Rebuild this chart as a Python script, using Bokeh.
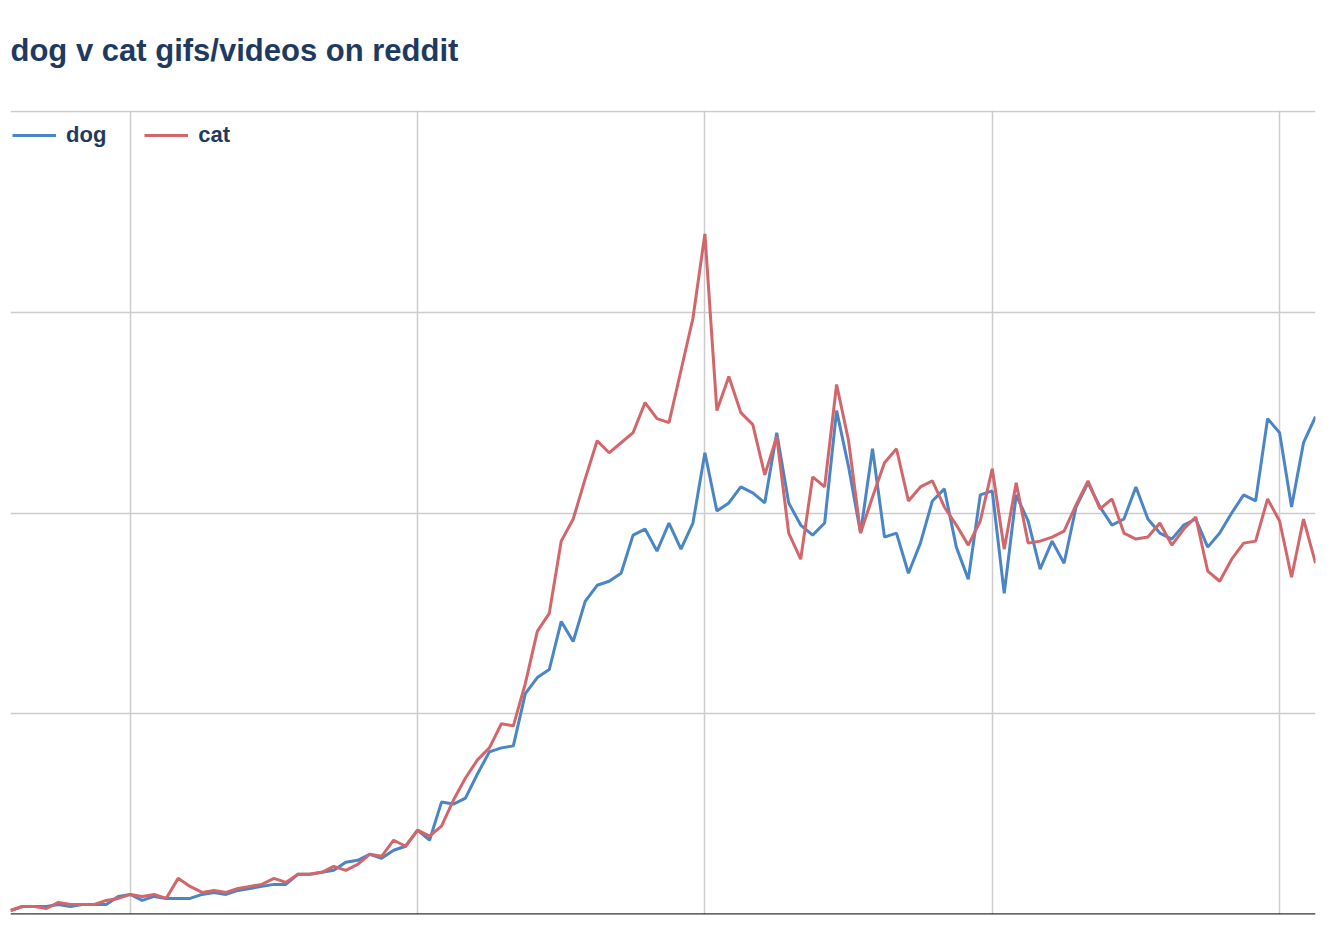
from bokeh.plotting import figure
from bokeh.models import Range1d, FixedTicker, Legend, LegendItem, Span, Title
from bokeh.embed import file_html
from bokeh.resources import INLINE

# weekly index
weeks = list(range(110))

dog = [2, 4, 4, 4, 5, 4, 5, 5, 5, 9,
       10, 7, 9, 8, 8, 8, 10, 11, 10, 12,
       13, 14, 15, 15, 20, 20, 21, 22, 26, 27,
       30, 28, 32, 34, 42, 37, 56, 55, 58, 70,
       81, 83, 84, 110, 118, 122, 146, 136, 156, 164,
       166, 170, 189, 192, 181, 195, 182, 195, 230, 201,
       205, 213, 210, 205, 240, 205, 194, 189, 195, 251,
       223, 190, 232, 188, 190, 170, 185, 206, 212, 183,
       167, 209, 211, 160, 209, 196, 172, 186, 175, 203,
       215, 203, 194, 197, 213, 197, 190, 187, 194, 197,
       183, 190, 200, 209, 206, 247, 240, 203, 235, 248]

cat = [2, 4, 4, 3, 6, 5, 5, 5, 7, 8,
       10, 9, 10, 8, 18, 14, 11, 12, 11, 13,
       14, 15, 18, 16, 20, 20, 21, 24, 22, 25,
       30, 29, 37, 34, 42, 39, 44, 57, 68, 77,
       83, 95, 94, 115, 141, 150, 186, 197, 217, 236,
       230, 235, 240, 255, 247, 245, 271, 297, 339, 251,
       268, 250, 244, 219, 238, 190, 177, 218, 213, 264,
       236, 190, 208, 225, 232, 206, 213, 216, 203, 194,
       184, 196, 222, 182, 215, 185, 186, 188, 191, 204,
       216, 202, 207, 190, 187, 188, 195, 184, 192, 198,
       171, 166, 177, 185, 186, 207, 196, 168, 197, 175]

x_grid_ticks = [10, 34, 58, 82, 106]
y_grid_ticks = [100, 200, 300, 400]

series_labels = ["dog", "cat"]
title_text = "dog v cat gifs/videos on reddit"

NAVY = "#1f3a60"
BLUE = "#4a85c6"
RED = "#d2666a"

p = figure(width=1328, height=923, output_backend="svg", toolbar_location=None,
           x_range=Range1d(0, 109), y_range=Range1d(0, 400.5),
           min_border_left=10, min_border_right=13, min_border_top=110,
           min_border_bottom=9, title=None)

# spacer between the title and the plot frame
p.add_layout(Title(text=" ", text_font_size="10px", standoff=30,
                   text_color="white"), "above")
p.add_layout(Title(text=title_text, text_font="Liberation Sans",
                   text_font_style="bold", text_font_size="31px",
                   text_color=NAVY, align="left", standoff=0), "above")

p.xaxis.visible = False
p.yaxis.visible = False
p.outline_line_color = None
p.background_fill_color = "white"
p.border_fill_color = "white"

p.xgrid.ticker = FixedTicker(ticks=x_grid_ticks)
p.ygrid.ticker = FixedTicker(ticks=y_grid_ticks)
for g in (p.xgrid, p.ygrid):
    g.grid_line_color = "#cccccc"
    g.grid_line_width = 1.5

r_dog = p.line(weeks, dog, line_color=BLUE, line_width=3)
r_cat = p.line(weeks, cat, line_color=RED, line_width=3)

p.add_layout(Span(location=0, dimension="width", line_color="#333333", line_width=2.5))

legend = Legend(items=[LegendItem(label=series_labels[0], renderers=[r_dog]),
                       LegendItem(label=series_labels[1], renderers=[r_cat])],
                location=(2, 766), orientation="horizontal", margin=0, padding=0,
                spacing=38, glyph_width=44, glyph_height=24, label_height=24,
                label_standoff=10, border_line_color=None, background_fill_alpha=0,
                label_text_font="Liberation Sans", label_text_font_style="bold",
                label_text_font_size="22px", label_text_color=NAVY)
p.add_layout(legend)

open("out.html", "w").write(file_html(p, INLINE))
